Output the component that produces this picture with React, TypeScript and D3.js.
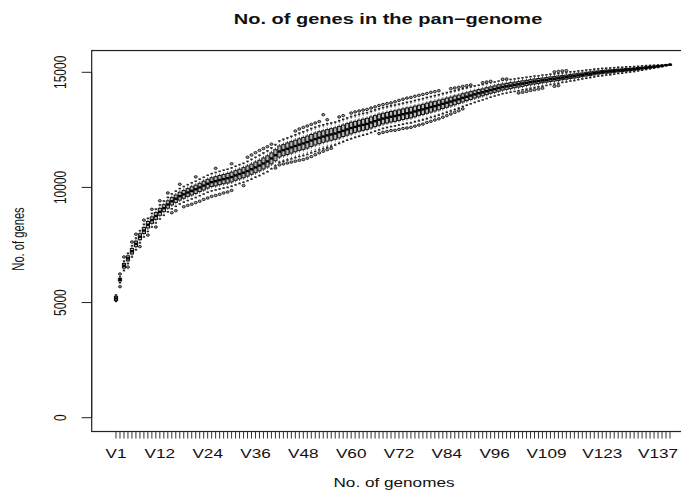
import * as d3 from "d3";
import { useEffect, useRef } from "react";

const genomes = d3.range(1, 141).map((i) => `V${i}`);
const labelledGenomes = ["V1", "V12", "V24", "V36", "V48", "V60", "V72", "V84", "V96", "V109", "V123", "V137"];
const yTicks = [0, 5000, 10000, 15000];

const medians = [
  5180, 5990, 6600, 6920, 7230, 7550, 7860, 8130, 8380, 8580,
  8760, 8940, 9100, 9260, 9400, 9510, 9620, 9700, 9780, 9850,
  9920, 10000, 10080, 10160, 10230, 10270, 10320, 10360, 10400, 10450,
  10520, 10580, 10640, 10710, 10790, 10870, 10950, 11040, 11130, 11260,
  11400, 11560, 11620, 11680, 11740, 11800, 11860, 11910, 11970, 12040,
  12100, 12160, 12210, 12260, 12300, 12340, 12400, 12460, 12520, 12580,
  12630, 12680, 12720, 12760, 12820, 12880, 12940, 12990, 13030, 13070,
  13100, 13140, 13180, 13220, 13250, 13300, 13350, 13390, 13440, 13490,
  13530, 13580, 13630, 13680, 13730, 13780, 13830, 13890, 13940, 13990,
  14040, 14090, 14130, 14180, 14230, 14270, 14320, 14360, 14390, 14420,
  14450, 14480, 14510, 14540, 14570, 14600, 14620, 14650, 14670, 14700,
  14720, 14740, 14770, 14790, 14820, 14840, 14870, 14890, 14920, 14940,
  14970, 14990, 15010, 15030, 15040, 15060, 15080, 15090, 15110, 15120,
  15140, 15160, 15180, 15200, 15220, 15240, 15260, 15280, 15310, 15335,
];

// half of the inter-quartile range (genes)
const boxHalf = [
  90, 50, 100, 110, 120, 120, 130, 130, 140, 140,
  150, 150, 150, 160, 160, 160, 170, 170, 170, 180,
  180, 180, 190, 190, 190, 200, 200, 200, 210, 210,
  210, 210, 220, 220, 220, 230, 230, 240, 240, 240,
  240, 240, 240, 250, 250, 250, 250, 260, 260, 260,
  260, 260, 250, 250, 250, 250, 250, 250, 250, 250,
  240, 240, 240, 240, 240, 240, 240, 230, 230, 230,
  230, 230, 230, 230, 230, 230, 220, 220, 220, 220,
  210, 210, 200, 200, 190, 190, 180, 180, 170, 170,
  160, 160, 150, 150, 140, 140, 140, 130, 130, 130,
  120, 120, 120, 110, 110, 110, 110, 100, 100, 100,
  100, 100, 90, 90, 90, 90, 90, 80, 80, 80,
  80, 70, 70, 70, 70, 60, 60, 60, 60, 50,
  50, 50, 40, 40, 40, 30, 30, 20, 10, 0,
];

// whisker reach above / below the median (genes)
const whiskerHigh = [
  150, 120, 200, 220, 240, 250, 260, 270, 280, 290,
  300, 300, 310, 310, 320, 330, 330, 340, 340, 350,
  350, 360, 360, 370, 370, 380, 380, 390, 390, 400,
  400, 410, 410, 420, 430, 440, 450, 460, 460, 460,
  460, 460, 470, 470, 480, 490, 500, 510, 520, 520,
  520, 520, 510, 510, 500, 500, 500, 500, 500, 500,
  500, 500, 500, 490, 490, 490, 480, 480, 480, 480,
  480, 480, 480, 480, 480, 480, 470, 470, 470, 460,
  460, 450, 450, 440, 430, 420, 410, 400, 390, 380,
  370, 350, 340, 330, 320, 310, 300, 290, 280, 270,
  260, 260, 250, 250, 240, 240, 230, 230, 220, 220,
  210, 210, 200, 200, 200, 190, 190, 180, 180, 170,
  170, 160, 160, 150, 150, 140, 140, 130, 130, 120,
  110, 100, 100, 90, 80, 70, 60, 40, 20, 0,
];
const whiskerLow = [
  130, 130, 210, 230, 250, 260, 270, 280, 290, 300,
  300, 310, 310, 320, 330, 330, 340, 340, 350, 350,
  360, 360, 370, 370, 380, 380, 390, 390, 400, 400,
  410, 410, 420, 420, 430, 430, 440, 440, 450, 450,
  460, 470, 480, 490, 500, 510, 520, 530, 540, 540,
  540, 530, 530, 520, 510, 500, 490, 480, 470, 470,
  460, 460, 450, 450, 440, 440, 440, 430, 430, 430,
  430, 430, 440, 440, 450, 450, 460, 460, 460, 450,
  450, 440, 430, 420, 410, 400, 390, 380, 370, 360,
  350, 340, 330, 320, 310, 300, 300, 290, 290, 280,
  280, 280, 270, 270, 260, 260, 250, 250, 240, 230,
  230, 220, 210, 210, 200, 200, 190, 180, 180, 170,
  170, 160, 160, 150, 150, 140, 130, 130, 120, 110,
  110, 100, 90, 80, 70, 60, 50, 40, 20, 0,
];

// single outlier above / below the median (genes), 0 = none
const outlierHigh = [
  0, 250, 380, 0, 400, 420, 0, 450, 0, 470,
  0, 480, 0, 500, 0, 0, 520, 0, 0, 0,
  540, 0, 0, 0, 0, 560, 0, 0, 0, 580,
  0, 0, 0, 600, 620, 640, 660, 650, 640, 620,
  0, 0, 0, 0, 0, 650, 680, 700, 700, 700,
  700, 700, 950, 680, 0, 0, 660, 660, 0, 650,
  650, 640, 640, 630, 630, 620, 620, 610, 610, 600,
  620, 640, 650, 660, 660, 660, 650, 650, 640, 640,
  630, 620, 0, 0, 560, 540, 520, 500, 480, 460,
  0, 0, 420, 400, 380, 0, 0, 340, 320, 0,
  0, 0, 0, 0, 0, 0, 0, 0, 0, 0,
  300, 300, 290, 280, 0, 0, 0, 0, 0, 0,
  0, 0, 0, 0, 0, 0, 0, 0, 0, 0,
  0, 0, 0, 0, 0, 0, 0, 0, 0, 0,
];
const outlierLow = [
  0, 300, 0, 380, 0, 0, 430, 0, 450, 0,
  480, 0, 0, 0, 500, 520, 0, 540, 560, 580,
  580, 600, 600, 620, 620, 620, 620, 600, 600, 580,
  0, 0, 560, 0, 0, 0, 0, 0, 0, 0,
  560, 580, 600, 620, 640, 660, 680, 700, 700, 700,
  680, 660, 640, 620, 600, 0, 0, 0, 0, 0,
  0, 0, 0, 0, 0, 0, 600, 600, 600, 600,
  620, 620, 620, 640, 640, 640, 640, 640, 620, 620,
  600, 600, 580, 560, 540, 520, 500, 480, 0, 0,
  0, 0, 0, 0, 0, 0, 0, 0, 0, 0,
  0, 380, 380, 370, 360, 360, 350, 340, 0, 0,
  330, 320, 0, 0, 0, 0, 0, 0, 0, 0,
  0, 0, 0, 0, 0, 0, 0, 0, 0, 0,
  0, 0, 0, 0, 0, 0, 0, 0, 0, 0,
];

const FONT = "'Liberation Sans', Arial, Helvetica, sans-serif";
const SX = 1.43; // the source image is stretched sideways

const App = () => {
  const ref = useRef(null);

  useEffect(() => {
    d3.select(ref.current).select("svg").remove();

    const width = 681,
      height = 491;

    const svg = d3
      .select(ref.current)
      .append("svg")
      .attr("width", width)
      .attr("height", height)
      .style("position", "absolute")
      .style("left", 0)
      .style("top", 0)
      .style("background", "#fff");

    const x = d3.scaleLinear().domain([1, genomes.length]).range([116, 670]);
    const y = d3.scaleLinear().domain([0, 15000]).range([417.7, 72.3]);

    // plot region (R's 4% extension)
    const left = x(-5.1),
      right = x(146.1),
      top = y(15945),
      bottom = y(-600);

    const data = genomes.map((g, i) => ({
      g,
      i: i + 1,
      med: medians[i],
      q1: medians[i] - boxHalf[i],
      q3: medians[i] + boxHalf[i],
      lo: medians[i] - whiskerLow[i],
      hi: medians[i] + whiskerHigh[i],
      outs: [
        outlierHigh[i] ? medians[i] + outlierHigh[i] : null,
        outlierLow[i] ? medians[i] - outlierLow[i] : null,
      ].filter((v) => v !== null),
    }));

    const bw = 3.2;

    const boxes = svg.append("g").selectAll("g").data(data).join("g");

    // whiskers (dashed) + staples
    boxes
      .append("line")
      .attr("x1", (d) => x(d.i))
      .attr("x2", (d) => x(d.i))
      .attr("y1", (d) => y(d.q3))
      .attr("y2", (d) => y(d.hi))
      .attr("stroke", "#444")
      .attr("stroke-width", 0.9)
      .attr("stroke-dasharray", "2,1.5");
    boxes
      .append("line")
      .attr("x1", (d) => x(d.i))
      .attr("x2", (d) => x(d.i))
      .attr("y1", (d) => y(d.q1))
      .attr("y2", (d) => y(d.lo))
      .attr("stroke", "#444")
      .attr("stroke-width", 0.9)
      .attr("stroke-dasharray", "2,1.5");
    boxes
      .selectAll(".staple")
      .data((d) => [d.lo, d.hi].map((v) => ({ i: d.i, v })))
      .join("line")
      .attr("x1", (d) => x(d.i) - 1.2)
      .attr("x2", (d) => x(d.i) + 1.2)
      .attr("y1", (d) => y(d.v))
      .attr("y2", (d) => y(d.v))
      .attr("stroke", "#222")
      .attr("stroke-width", 1.6);

    // boxes
    boxes
      .append("rect")
      .attr("x", (d) => x(d.i) - bw / 2)
      .attr("width", bw)
      .attr("y", (d) => y(d.q3))
      .attr("height", (d) => Math.max(0.5, y(d.q1) - y(d.q3)))
      .attr("fill", "#bbb")
      .attr("stroke", "#111")
      .attr("stroke-width", 1);

    // medians
    boxes
      .append("line")
      .attr("x1", (d) => x(d.i) - bw / 2)
      .attr("x2", (d) => x(d.i) + bw / 2)
      .attr("y1", (d) => y(d.med))
      .attr("y2", (d) => y(d.med))
      .attr("stroke", "#000")
      .attr("stroke-width", 2.4);

    // outliers
    boxes
      .selectAll("ellipse")
      .data((d) => d.outs.map((v) => ({ i: d.i, v })))
      .join("ellipse")
      .attr("cx", (d) => x(d.i))
      .attr("cy", (d) => y(d.v))
      .attr("rx", 1.5)
      .attr("ry", 1.2)
      .attr("fill", "#999")
      .attr("stroke", "#222")
      .attr("stroke-width", 1);

    // frame
    svg
      .append("rect")
      .attr("x", left)
      .attr("y", top)
      .attr("width", right - left)
      .attr("height", bottom - top)
      .attr("fill", "none")
      .attr("stroke", "#222")
      .attr("stroke-width", 1.2);

    // x axis ticks
    svg
      .append("g")
      .selectAll("line")
      .data(genomes)
      .join("line")
      .attr("x1", (d, i) => x(i + 1))
      .attr("x2", (d, i) => x(i + 1))
      .attr("y1", bottom)
      .attr("y2", bottom + 7)
      .attr("stroke", "#333")
      .attr("stroke-width", 1);

    const text = (g, tx, ty, s, size, opts = {}) =>
      g
        .append("text")
        .attr(
          "transform",
          `translate(${tx},${ty}) scale(${SX},1)${opts.rotate ? " rotate(-90)" : ""}`
        )
        .attr("text-anchor", "middle")
        .attr("font-family", FONT)
        .attr("font-size", size)
        .attr("font-weight", opts.bold ? "bold" : "normal")
        .attr("fill", "#111")
        .text(s);

    const labels = svg.append("g");
    labelledGenomes.forEach((g) => {
      text(labels, x(genomes.indexOf(g) + 1), 457.5, g, 12);
    });

    // y axis
    svg
      .append("line")
      .attr("x1", left)
      .attr("x2", left)
      .attr("y1", y(0))
      .attr("y2", y(15000))
      .attr("stroke", "#222");
    svg
      .append("g")
      .selectAll("line")
      .data(yTicks)
      .join("line")
      .attr("x1", left)
      .attr("x2", left - 10)
      .attr("y1", (d) => y(d))
      .attr("y2", (d) => y(d))
      .attr("stroke", "#222");
    yTicks.forEach((t) => text(labels, 65.5, y(t), String(t), 12, { rotate: true }));

    // titles
    text(svg, 388, 24, "No. of genes in the pan\u2212genome", 14, { bold: true });
    text(svg, 394, 487, "No. of genomes", 12);
    text(svg, 24, 239, "No. of genes", 11.2, { rotate: true });
  }, []);

  return <div ref={ref} />;
};

export default App;
